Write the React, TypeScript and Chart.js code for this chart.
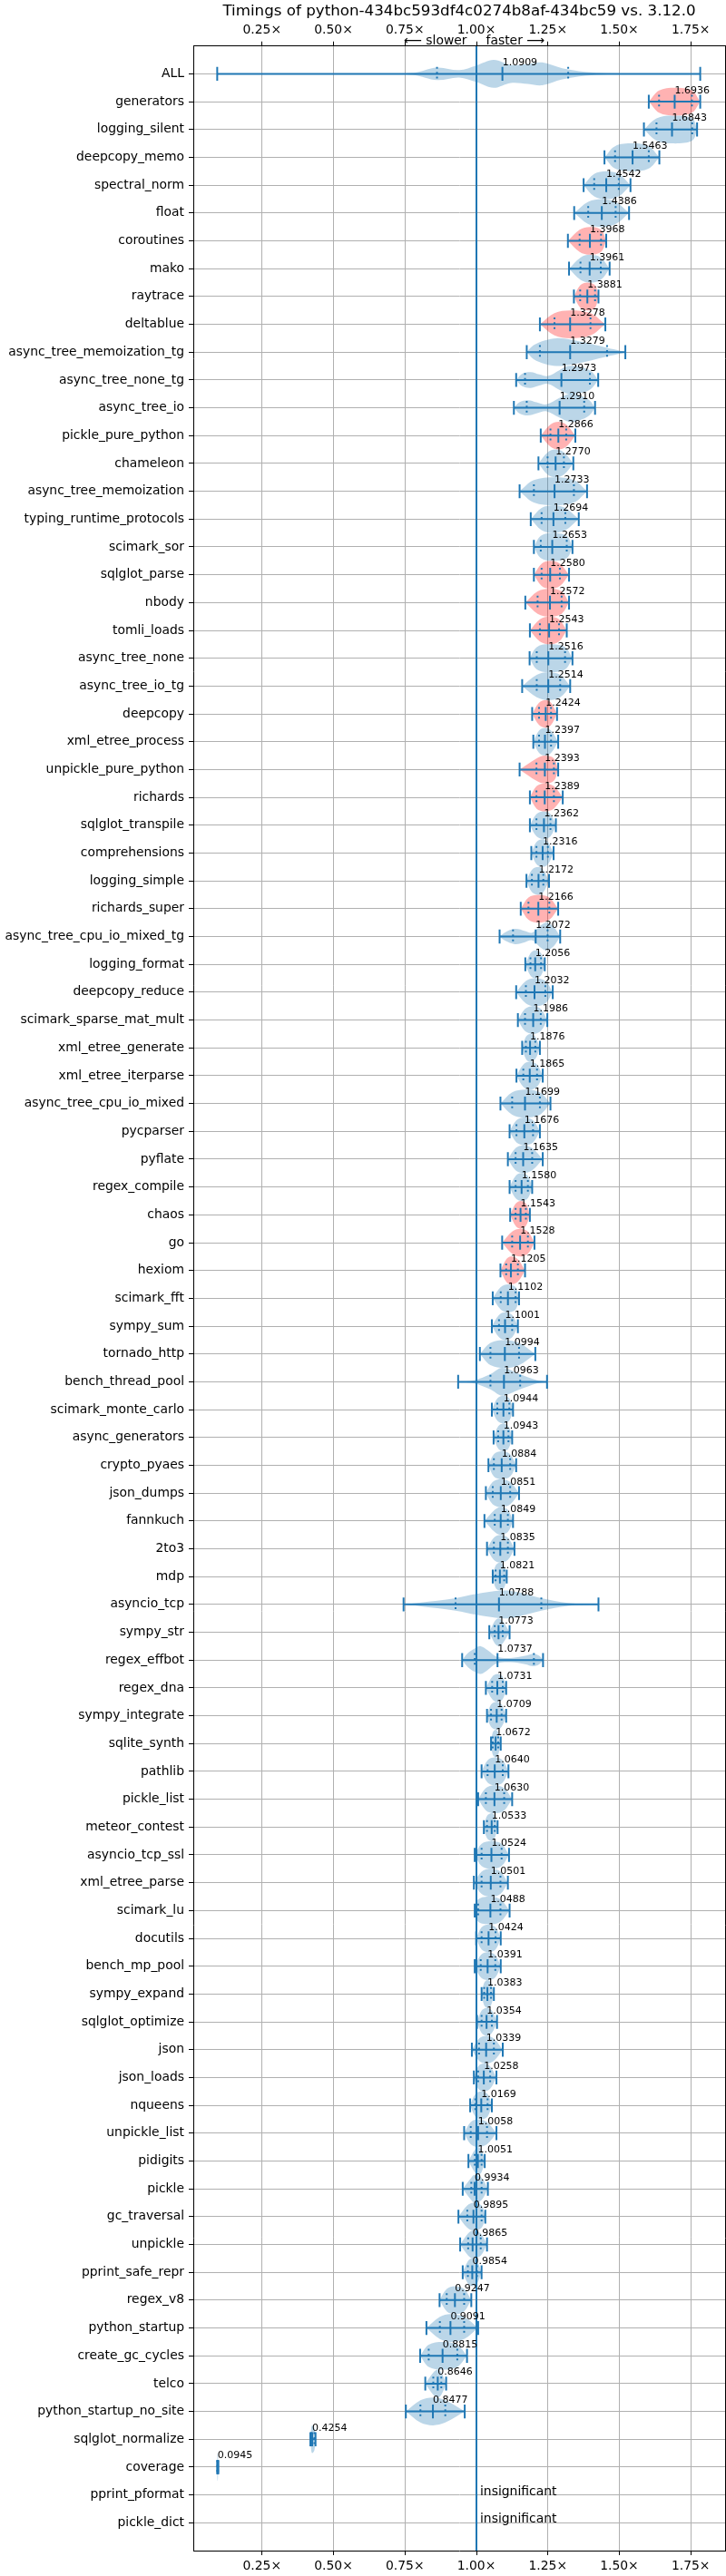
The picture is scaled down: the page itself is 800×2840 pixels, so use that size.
import React, { useEffect, useRef } from 'react';
import { Chart, registerables } from 'chart.js';

Chart.register(...registerables);

const FONT = '"DejaVu Sans", "Liberation Sans", sans-serif';
const TITLE = 'Timings of python-434bc593df4c0274b8af-434bc59 vs. 3.12.0';
const SLOWER_TEXT = '\u27F5 slower';
const FASTER_TEXT = 'faster \u27F6';
const INSIGNIFICANT = 'insignificant';

const benchmarks = [
  'ALL', 'generators', 'logging_silent', 'deepcopy_memo', 'spectral_norm', 'float', 'coroutines', 'mako', 'raytrace', 'deltablue',
  'async_tree_memoization_tg', 'async_tree_none_tg', 'async_tree_io', 'pickle_pure_python', 'chameleon', 'async_tree_memoization', 'typing_runtime_protocols', 'scimark_sor', 'sqlglot_parse', 'nbody',
  'tomli_loads', 'async_tree_none', 'async_tree_io_tg', 'deepcopy', 'xml_etree_process', 'unpickle_pure_python', 'richards', 'sqlglot_transpile', 'comprehensions', 'logging_simple',
  'richards_super', 'async_tree_cpu_io_mixed_tg', 'logging_format', 'deepcopy_reduce', 'scimark_sparse_mat_mult', 'xml_etree_generate', 'xml_etree_iterparse', 'async_tree_cpu_io_mixed', 'pycparser', 'pyflate',
  'regex_compile', 'chaos', 'go', 'hexiom', 'scimark_fft', 'sympy_sum', 'tornado_http', 'bench_thread_pool', 'scimark_monte_carlo', 'async_generators',
  'crypto_pyaes', 'json_dumps', 'fannkuch', '2to3', 'mdp', 'asyncio_tcp', 'sympy_str', 'regex_effbot', 'regex_dna', 'sympy_integrate',
  'sqlite_synth', 'pathlib', 'pickle_list', 'meteor_contest', 'asyncio_tcp_ssl', 'xml_etree_parse', 'scimark_lu', 'docutils', 'bench_mp_pool', 'sympy_expand',
  'sqlglot_optimize', 'json', 'json_loads', 'nqueens', 'unpickle_list', 'pidigits', 'pickle', 'gc_traversal', 'unpickle', 'pprint_safe_repr',
  'regex_v8', 'python_startup', 'create_gc_cycles', 'telco', 'python_startup_no_site', 'sqlglot_normalize', 'coverage', 'pprint_pformat', 'pickle_dict',
];

// central value (labelled), null = insignificant
const means: (number | null)[] = [
  1.0909, 1.6936, 1.6843, 1.5463, 1.4542, 1.4386, 1.3968, 1.3961, 1.3881, 1.3278,
  1.3279, 1.2973, 1.2910, 1.2866, 1.2770, 1.2733, 1.2694, 1.2653, 1.2580, 1.2572,
  1.2543, 1.2516, 1.2514, 1.2424, 1.2397, 1.2393, 1.2389, 1.2362, 1.2316, 1.2172,
  1.2166, 1.2072, 1.2056, 1.2032, 1.1986, 1.1876, 1.1865, 1.1699, 1.1676, 1.1635,
  1.1580, 1.1543, 1.1528, 1.1205, 1.1102, 1.1001, 1.0994, 1.0963, 1.0944, 1.0943,
  1.0884, 1.0851, 1.0849, 1.0835, 1.0821, 1.0788, 1.0773, 1.0737, 1.0731, 1.0709,
  1.0672, 1.0640, 1.0630, 1.0533, 1.0524, 1.0501, 1.0488, 1.0424, 1.0391, 1.0383,
  1.0354, 1.0339, 1.0258, 1.0169, 1.0058, 1.0051, 0.9934, 0.9895, 0.9865, 0.9854,
  0.9247, 0.9091, 0.8815, 0.8646, 0.8477, 0.4254, 0.0945, null, null,
];

const mins = [
  0.093, 1.603, 1.586, 1.448, 1.375, 1.342, 1.320, 1.324, 1.341, 1.222,
  1.176, 1.139, 1.131, 1.225, 1.217, 1.151, 1.190, 1.201, 1.201, 1.171,
  1.187, 1.186, 1.160, 1.195, 1.199, 1.151, 1.187, 1.187, 1.192, 1.175,
  1.155, 1.081, 1.171, 1.139, 1.145, 1.160, 1.140, 1.084, 1.116, 1.110,
  1.116, 1.118, 1.090, 1.084, 1.057, 1.054, 1.012, 0.936, 1.054, 1.060,
  1.042, 1.033, 1.028, 1.037, 1.057, 0.745, 1.045, 0.950, 1.033, 1.037,
  1.051, 1.018, 1.006, 1.026, 0.994, 0.991, 0.994, 0.999, 0.994, 1.018,
  1.002, 0.984, 0.991, 0.978, 0.957, 0.972, 0.952, 0.937, 0.943, 0.952,
  0.871, 0.825, 0.803, 0.821, 0.753, 0.419, 0.093, 0.998, 0.998,
];

const q1s: (number | null)[] = [
  0.862, 1.639, 1.630, 1.485, 1.412, 1.391, 1.361, 1.364, 1.363, 1.273,
  1.222, 1.170, 1.176, 1.259, 1.249, 1.201, 1.228, 1.225, 1.228, 1.214,
  1.222, 1.211, 1.211, 1.219, 1.219, 1.210, 1.210, 1.210, 1.210, 1.194,
  1.182, 1.128, 1.189, 1.173, 1.170, 1.173, 1.164, 1.125, 1.140, 1.137,
  1.137, 1.137, 1.125, 1.104, 1.085, 1.079, 1.049, 1.049, 1.073, 1.076,
  1.061, 1.057, 1.064, 1.061, 1.067, 0.927, 1.064, 0.994, 1.055, 1.051,
  1.057, 1.039, 1.033, 1.037, 1.018, 1.018, 1.006, 1.018, 1.015, 1.027,
  1.018, 1.009, 1.006, 0.996, 0.980, 0.994, 0.982, 0.968, 0.971, 0.970,
  0.896, 0.872, 0.833, 0.849, 0.804, 0.422, 0.0935, null, null,
];

const q3s: (number | null)[] = [
  1.321, 1.754, 1.755, 1.603, 1.498, 1.487, 1.436, 1.435, 1.415, 1.399,
  1.457, 1.397, 1.377, 1.314, 1.306, 1.341, 1.311, 1.316, 1.292, 1.298,
  1.289, 1.310, 1.293, 1.261, 1.261, 1.271, 1.271, 1.259, 1.250, 1.234,
  1.255, 1.249, 1.226, 1.241, 1.225, 1.206, 1.212, 1.222, 1.198, 1.195,
  1.180, 1.173, 1.180, 1.145, 1.137, 1.125, 1.149, 1.153, 1.115, 1.112,
  1.118, 1.118, 1.110, 1.110, 1.097, 1.227, 1.092, 1.201, 1.092, 1.088,
  1.076, 1.092, 1.097, 1.064, 1.088, 1.084, 1.084, 1.067, 1.066, 1.051,
  1.054, 1.061, 1.048, 1.039, 1.037, 1.018, 1.018, 1.018, 1.015, 1.002,
  0.957, 0.957, 0.933, 0.877, 0.891, 0.433, 0.0955, null, null,
];

const maxs = [
  1.783, 1.783, 1.772, 1.640, 1.539, 1.534, 1.454, 1.466, 1.427, 1.451,
  1.521, 1.426, 1.415, 1.346, 1.339, 1.387, 1.358, 1.336, 1.324, 1.324,
  1.316, 1.336, 1.328, 1.282, 1.286, 1.286, 1.302, 1.278, 1.270, 1.254,
  1.286, 1.293, 1.239, 1.267, 1.248, 1.222, 1.232, 1.259, 1.222, 1.232,
  1.195, 1.187, 1.203, 1.170, 1.149, 1.145, 1.206, 1.247, 1.128, 1.125,
  1.139, 1.149, 1.128, 1.133, 1.106, 1.427, 1.116, 1.233, 1.104, 1.104,
  1.085, 1.112, 1.125, 1.074, 1.114, 1.110, 1.116, 1.085, 1.085, 1.061,
  1.072, 1.092, 1.070, 1.054, 1.070, 1.029, 1.040, 1.031, 1.037, 1.018,
  0.982, 1.006, 0.967, 0.894, 0.959, 0.437, 0.097, 1.004, 1.004,
];

// benchmarks whose violin is drawn in red
const redBenchmarks = [
  'generators', 'coroutines', 'raytrace', 'deltablue', 'pickle_pure_python', 'sqlglot_parse', 'nbody',
  'tomli_loads', 'deepcopy', 'unpickle_pure_python', 'richards', 'richards_super', 'chaos', 'go', 'hexiom',
];

// violin outlines: [value, relative half-width]
const violinShapes: Record<string, [number, number][]> = {
  ALL: [[0.60, 0.01], [0.78, 0.08], [0.862, 0.45], [0.94, 0.27], [1.0, 0.6], [1.06, 1.0], [1.12, 0.65], [1.18, 0.72], [1.23, 0.82], [1.30, 0.4], [1.38, 0.14], [1.46, 0.04], [1.60, 0.01]],
  async_tree_memoization_tg: [[1.20, 0.5], [1.24, 0.85], [1.28, 1.0], [1.33, 0.9], [1.40, 0.6], [1.46, 0.3], [1.50, 0.12]],
  async_tree_none_tg: [[1.16, 0.45], [1.19, 0.57], [1.22, 0.4], [1.25, 0.28], [1.29, 0.7], [1.32, 1.0], [1.36, 0.95], [1.40, 0.65]],
  async_tree_io: [[1.15, 0.4], [1.18, 0.55], [1.21, 0.4], [1.245, 0.25], [1.29, 0.7], [1.325, 1.0], [1.36, 0.9], [1.395, 0.55]],
  async_tree_cpu_io_mixed_tg: [[1.10, 0.3], [1.135, 0.55], [1.17, 0.4], [1.195, 0.28], [1.225, 0.8], [1.245, 1.0], [1.27, 0.7]],
  regex_effbot: [[0.97, 0.5], [0.995, 0.85], [1.015, 1.0], [1.04, 0.7], [1.07, 0.25], [1.12, 0.15], [1.17, 0.3], [1.20, 0.45], [1.22, 0.3]],
  asyncio_tcp: [[0.80, 0.12], [0.927, 0.45], [1.0, 0.75], [1.09, 1.0], [1.14, 0.9], [1.227, 0.45], [1.32, 0.1]],
  bench_thread_pool: [[0.99, 0.1], [1.049, 0.55], [1.09, 1.0], [1.152, 0.55], [1.21, 0.12]],
};
const defaultProfile = [0.8, 1.0, 0.8]; // at q1, centre, q3

const xTicks = [0.25, 0.5, 0.75, 1.0, 1.25, 1.5, 1.75];
const referenceValue = 1.0;

const BLUE = '#1f77b4';
const BLUE_FILL = 'rgba(31,119,180,0.3)';
const RED_FILL = 'rgba(255,0,0,0.3)';
const GRID = '#b0b0b0';

function buildDatasets() {
  const violins = benchmarks.map((name, i) => {
    const row = i + 1;
    const lo = mins[i];
    const hi = maxs[i];
    const q1 = q1s[i];
    const q3 = q3s[i];
    const m = means[i];
    let knots: [number, number][];
    if (violinShapes[name]) knots = violinShapes[name];
    else if (q1 !== null && q3 !== null && m !== null) knots = [[q1, defaultProfile[0]], [m, defaultProfile[1]], [q3, defaultProfile[2]]];
    else knots = [[(lo + hi) / 2, 1]];
    const top = knots.map(([v, w]) => ({ x: v, y: row - w * 0.5 }));
    const bottom = [...knots].reverse().map(([v, w]) => ({ x: v, y: row + w * 0.5 }));
    return {
      type: 'scatter',
      data: [{ x: lo, y: row }, ...top, { x: hi, y: row }, { x: hi, y: row }, ...bottom, { x: lo, y: row }],
      showLine: true,
      fill: 'shape',
      backgroundColor: redBenchmarks.includes(name) ? RED_FILL : BLUE_FILL,
      borderColor: 'rgba(0,0,0,0)',
      borderWidth: 0,
      pointRadius: 0,
      pointHoverRadius: 0,
      tension: 0.35,
      order: 3,
    };
  });

  const extrema: any[] = [];
  const caps: any[] = [];
  const centres: any[] = [];
  const quartiles: any[] = [];
  const gap = () => ({ x: null, y: null });
  benchmarks.forEach((_, i) => {
    const row = i + 1;
    const m = means[i];
    if (m === null) return;
    extrema.push({ x: mins[i], y: row }, { x: maxs[i], y: row }, gap());
    [mins[i], maxs[i]].forEach((v) => caps.push({ x: v, y: row - 0.25 }, { x: v, y: row + 0.25 }, gap()));
    centres.push({ x: m, y: row - 0.25 }, { x: m, y: row + 0.25 }, gap());
    [q1s[i], q3s[i]].forEach((v) => quartiles.push({ x: v, y: row - 0.25 }, { x: v, y: row + 0.25 }, gap()));
  });

  const lineStyle = {
    type: 'scatter',
    showLine: true,
    fill: false,
    borderColor: BLUE,
    borderWidth: 2,
    pointRadius: 0,
    pointHoverRadius: 0,
    spanGaps: false,
    borderCapStyle: 'butt',
  };

  return [
    { ...lineStyle, data: [{ x: referenceValue, y: 0 }, { x: referenceValue, y: benchmarks.length + 1 }], order: 1 },
    { ...lineStyle, data: extrema, order: 2 },
    { ...lineStyle, data: caps, order: 2 },
    { ...lineStyle, data: centres, order: 2 },
    { ...lineStyle, data: quartiles, borderDash: [2, 3.4], order: 2 },
    ...violins,
  ];
}

const textPlugin = {
  id: 'benchText',
  afterDatasetsDraw(chart: any) {
    const { ctx, chartArea } = chart;
    const x = chart.scales.x;
    const y = chart.scales.y;
    ctx.save();
    ctx.fillStyle = '#000';
    ctx.textAlign = 'left';
    ctx.textBaseline = 'alphabetic';
    benchmarks.forEach((_, i) => {
      const row = i + 1;
      const m = means[i];
      if (m !== null) {
        ctx.font = `11px ${FONT}`;
        ctx.fillText(m.toFixed(4), x.getPixelForValue(m), y.getPixelForValue(row - 0.31));
      } else {
        ctx.font = `13.9px ${FONT}`;
        ctx.fillText(INSIGNIFICANT, x.getPixelForValue(referenceValue) + 4, y.getPixelForValue(row));
      }
    });
    const cx = x.getPixelForValue(referenceValue);
    ctx.font = `13.9px ${FONT}`;
    ctx.textBaseline = 'middle';
    ctx.textAlign = 'right';
    ctx.fillText(SLOWER_TEXT, cx - 10.5, chartArea.top - 5);
    ctx.textAlign = 'left';
    ctx.fillText(FASTER_TEXT, cx + 10.5, chartArea.top - 5);
    ctx.restore();
  },
};

export default function App() {
  const ref = useRef<HTMLCanvasElement>(null);
  useEffect(() => {
    document.body.style.margin = '0';
    const tickFont = { family: FONT, size: 13.9 };
    const xCommon = {
      type: 'linear',
      min: 0.0093,
      max: 1.87,
      afterBuildTicks: (s: any) => {
        s.ticks = xTicks.map((v) => ({ value: v }));
      },
      ticks: {
        callback: (v: any) => Number(v).toFixed(2) + '\u00D7',
        font: tickFont,
        color: '#000',
        padding: 4,
        maxRotation: 0,
        autoSkip: false,
      },
      border: { display: true, color: '#000', width: 1 },
    };
    const chart = new Chart(ref.current as HTMLCanvasElement, {
      type: 'scatter',
      data: { datasets: buildDatasets() as any },
      options: {
        animation: false,
        responsive: false,
        maintainAspectRatio: false,
        devicePixelRatio: 1,
        events: [],
        layout: { padding: { left: 0, right: 1, top: 0, bottom: 0 } },
        plugins: {
          legend: { display: false },
          tooltip: { enabled: false },
          title: {
            display: true,
            text: TITLE,
            color: '#000',
            fullSize: false,
            font: { family: FONT, size: 16.7, weight: 'normal' },
            padding: { top: 2.5, bottom: 0 },
          },
        },
        scales: {
          x: {
            ...xCommon,
            position: 'bottom',
            afterFit: (s: any) => {
              s.height = 28;
            },
            grid: { color: GRID, lineWidth: 1, tickLength: 5, tickColor: '#000', tickWidth: 1 },
          },
          x2: {
            ...xCommon,
            axis: 'x',
            position: 'top',
            afterFit: (s: any) => {
              s.height = 28.2;
            },
            grid: { drawOnChartArea: false, tickLength: 5, tickColor: '#000', tickWidth: 1, color: GRID },
          },
          y: {
            type: 'linear',
            position: 'left',
            min: 0,
            max: benchmarks.length + 1,
            reverse: true,
            afterBuildTicks: (s: any) => {
              s.ticks = benchmarks.map((_, i) => ({ value: i + 1 }));
            },
            afterFit: (s: any) => {
              s.width = 213;
            },
            ticks: {
              callback: (v: any) => benchmarks[Number(v) - 1] ?? '',
              font: tickFont,
              color: '#000',
              padding: 5,
              autoSkip: false,
            },
            grid: { color: GRID, lineWidth: 1, tickLength: 5, tickColor: '#000', tickWidth: 1 },
            border: { display: true, color: '#000', width: 1 },
          },
          y2: {
            type: 'linear',
            axis: 'y',
            position: 'right',
            min: 0,
            max: benchmarks.length + 1,
            reverse: true,
            ticks: { display: false },
            grid: { display: false },
            border: { display: true, color: '#000', width: 1 },
            afterFit: (s: any) => {
              s.width = 0;
            },
          },
        },
      } as any,
      plugins: [textPlugin],
    });
    return () => chart.destroy();
  }, []);
  return <canvas ref={ref} width={800} height={2840} style={{ display: 'block', width: '800px', height: '2840px' }} />;
}
